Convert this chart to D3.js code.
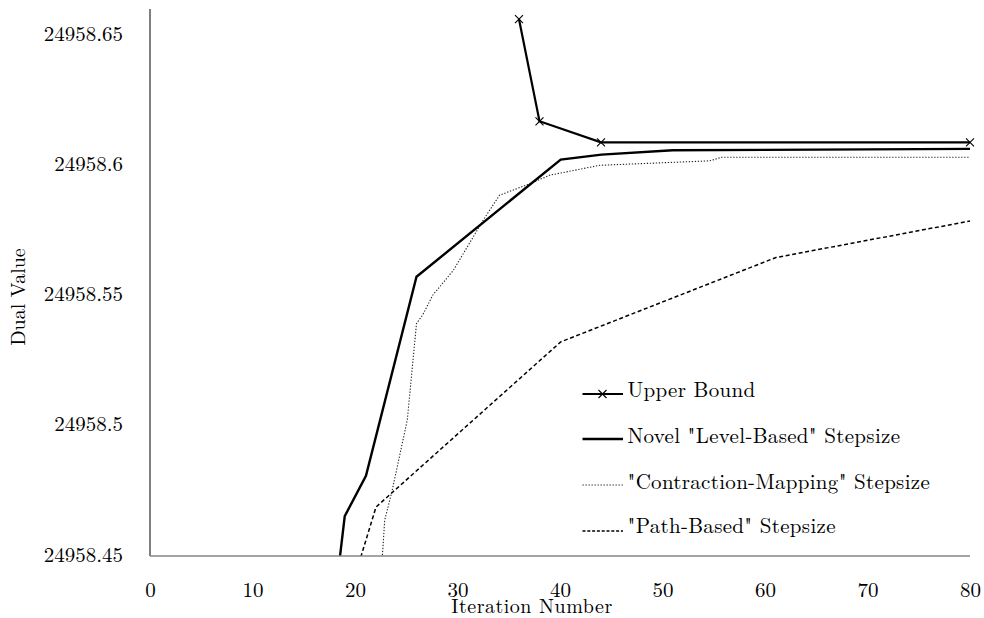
<!DOCTYPE html>
<html>
<head>
<meta charset="utf-8">
<script src="https://cdn.jsdelivr.net/npm/d3@7"></script>
<style>
  html, body { margin: 0; padding: 0; background: #fff; }
  svg { display: block; }
  text { font-family: "Latin Modern Roman", "CMU Serif", "Liberation Serif", "DejaVu Serif", serif; fill: #000; }
</style>
</head>
<body>
<svg id="chart" width="984" height="618"></svg>
<script>
// ---- Data ----
const seriesNames = [
  "Upper Bound",
  "Novel \"Level-Based\" Stepsize",
  "\"Contraction-Mapping\" Stepsize",
  "\"Path-Based\" Stepsize"
];

const upperBoundX = [36, 38, 44, 80];
const upperBoundY = [24958.6561, 24958.6169, 24958.6088, 24958.6088];

const levelX = [18, 19, 21.07, 26.0, 40.07, 44.05, 51, 65, 80];
const levelY = [24958.432, 24958.4653, 24958.4808, 24958.5572, 24958.6022, 24958.6041, 24958.6058, 24958.6060, 24958.6063];

const contractionX = [22.5, 22.9, 23.6, 25.1, 26.0, 26.6, 27.6, 28.8, 29.6, 32.5, 34.1, 37.1, 39.0, 43.9, 54.6, 55.8, 80];
const contractionY = [24958.44, 24958.4638, 24958.4747, 24958.5022, 24958.5393, 24958.5425, 24958.5502, 24958.5559, 24958.5597, 24958.5789, 24958.5885, 24958.5930, 24958.5962, 24958.6000, 24958.6017, 24958.6031, 24958.6031];

const pathX = [20, 22.05, 40.07, 61.07, 80];
const pathY = [24958.4423, 24958.4688, 24958.5322, 24958.5646, 24958.5786];

const xTicks = [0, 10, 20, 30, 40, 50, 60, 70, 80];
const yTicks = [24958.45, 24958.5, 24958.55, 24958.6, 24958.65];
const yTickLabels = ["24958.45", "24958.5", "24958.55", "24958.6", "24958.65"];

const xTitle = "Iteration Number";
const yTitle = "Dual Value";

// ---- Drawing ----
const svg = d3.select("#chart");
const x = d3.scaleLinear().domain([0, 80]).range([150, 970]);
const y = d3.scaleLinear().domain([24958.45, 24958.66]).range([556, 9]);

svg.append("defs").append("clipPath").attr("id", "plotclip")
  .append("rect").attr("x", 150).attr("y", 0).attr("width", 830).attr("height", 556);

// y axis
const yAxis = svg.append("g").attr("transform", "translate(150,0)")
  .call(d3.axisLeft(y).tickValues(yTicks).tickSize(0).tickFormat((d, i) => yTickLabels[i]));
yAxis.select(".domain").remove();
yAxis.selectAll("text")
  .attr("x", -27).attr("dy", "0.24em")
  .style("font-size", "21px").attr("font-family", null);
svg.append("line").attr("x1", 150).attr("x2", 150).attr("y1", y(24958.66)).attr("y2", y(24958.45))
  .attr("stroke", "#000").attr("stroke-width", 1);

// x axis
const xAxis = svg.append("g").attr("transform", "translate(0,556)")
  .call(d3.axisBottom(x).tickValues(xTicks).tickSize(0).tickFormat(d3.format("d")));
xAxis.select(".domain").remove();
xAxis.selectAll("text").attr("y", 41).attr("dy", 0)
  .style("font-size", "21px").attr("font-family", null);

// titles
svg.append("text").attr("x", 532).attr("y", 613).attr("text-anchor", "middle")
  .style("font-size", "20px").style("letter-spacing", "0.5px").text(xTitle);
svg.append("text").attr("transform", "translate(25,297) rotate(-90)").attr("text-anchor", "middle")
  .style("font-size", "20px").text(yTitle);

const line = d3.line().x(d => x(d[0])).y(d => y(d[1]));
const zip = (a, b) => a.map((v, i) => [v, b[i]]);

const plot = svg.append("g").attr("clip-path", "url(#plotclip)");

const styles = [
  { w: 2.2, dash: null, color: "#000" },
  { w: 2.4, dash: null, color: "#000" },
  { w: 1.1, dash: "1.3,1.7", color: "#222" },
  { w: 1.5, dash: "4,2.6", color: "#000" }
];
const data = [zip(upperBoundX, upperBoundY), zip(levelX, levelY), zip(contractionX, contractionY), zip(pathX, pathY)];

[3, 2, 1, 0].forEach(i => {
  plot.append("path").datum(data[i])
    .attr("d", line).attr("fill", "none")
    .attr("stroke", styles[i].color).attr("stroke-width", styles[i].w)
    .attr("stroke-dasharray", styles[i].dash)
    .attr("stroke-linejoin", "miter");
});

// x-axis line (gray), drawn over line ends
svg.append("line").attr("x1", 150).attr("x2", 970).attr("y1", 556).attr("y2", 556)
  .attr("stroke", "#868686").attr("stroke-width", 1.5);

// markers for upper bound
function cross(g, cx, cy) {
  const s = 4;
  g.append("path")
    .attr("d", `M${cx - s},${cy - s}L${cx + s},${cy + s}M${cx - s},${cy + s}L${cx + s},${cy - s}`)
    .attr("stroke", "#000").attr("stroke-width", 1.1).attr("fill", "none");
}
const mk = svg.append("g");
data[0].forEach(d => cross(mk, x(d[0]), y(d[1])));

// legend
const legendTextY = [397, 442.5, 489, 533];
const legendLineY = [394, 439, 485, 531];
const lg = svg.append("g");
seriesNames.forEach((name, i) => {
  lg.append("line").attr("x1", 582.5).attr("x2", 623).attr("y1", legendLineY[i]).attr("y2", legendLineY[i])
    .attr("stroke", styles[i].color).attr("stroke-width", styles[i].w)
    .attr("stroke-dasharray", i === 3 ? "3,1.8" : styles[i].dash);
  if (i === 0) cross(lg, 602.5, legendLineY[i]);
  lg.append("text").attr("x", 627.5).attr("y", legendTextY[i])
    .style("font-size", "21px").style("letter-spacing", "0.3px").text(name);
});
</script>
</body>
</html>
